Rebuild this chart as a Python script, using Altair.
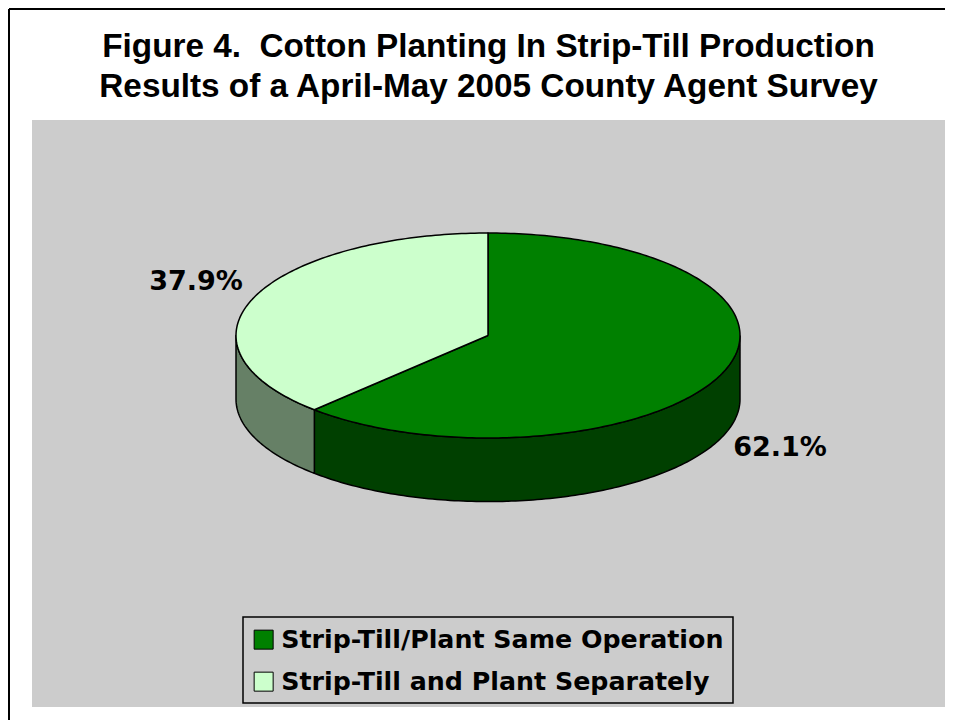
import math
import altair as alt
import pandas as pd

title_lines = ["Figure 4.\u00a0\u00a0Cotton Planting In Strip-Till Production",
               "Results of a April-May 2005 County Agent Survey"]
series = ["Strip-Till/Plant Same Operation", "Strip-Till and Plant Separately"]
shares = [62.1, 37.9]
labels = ["62.1%", "37.9%"]
top_colors = ["#008000", "#CCFFCC"]
side_colors = ["#004000", "#668066"]
FONT = "Liberation Sans"
LABEL_FONT = "DejaVu Sans"

DEPTH = 0.62  # wall height, in units of the ellipse's vertical radius


def rim(deg, drop=0.0):
    a = math.radians(deg)
    return math.sin(a), math.cos(a) - drop


split = shares[0] * 3.6
spans = [(0.0, split), (split, 360.0)]

top_rows = []
for name, (a0, a1) in zip(series, spans):
    n = int(round(a1 - a0))
    pts = [(0.0, 0.0)] + [rim(a0 + (a1 - a0) * i / n) for i in range(n + 1)] + [(0.0, 0.0)]
    for k, (x, y) in enumerate(pts):
        top_rows.append({"series": name, "x": x, "y": y, "k": k})
top_df = pd.DataFrame(top_rows)

side_spans = [(90.0, split), (split, 270.0)]
side_dfs = []
for a0, a1 in side_spans:
    n = int(round(a1 - a0))
    front = [rim(a0 + (a1 - a0) * i / n) for i in range(n + 1)]
    back = [rim(a1 - (a1 - a0) * i / n, DEPTH) for i in range(n + 1)]
    pts = front + back + front[:1]
    side_dfs.append(pd.DataFrame([{"x": x, "y": y, "k": k} for k, (x, y) in enumerate(pts)]))

xs = alt.Scale(domain=[(32 - 488) / 252, (945 - 488) / 252], nice=False, zero=False)
ys = alt.Scale(domain=[-(707 - 335.5) / 102.5, (335.5 - 120) / 102.5], nice=False, zero=False)
X = alt.X("x:Q", scale=xs, axis=None)
Y = alt.Y("y:Q", scale=ys, axis=None)

layers = []
for df, col in zip(side_dfs, side_colors):
    layers.append(
        alt.Chart(df).mark_line(fill=col, stroke="black", strokeWidth=1.5, strokeJoin="round")
        .encode(x=X, y=Y, order="k:Q")
    )

legend = alt.Legend(
    orient="none", legendX=219, legendY=507, title=None, padding=0,
    symbolType="square", symbolSize=361, symbolStrokeColor="black", symbolStrokeWidth=1,
    labelFont=LABEL_FONT, labelFontWeight="bold", labelFontSize=25.3, labelColor="black",
    rowPadding=16, labelOffset=5, labelLimit=600,
)
layers.append(
    alt.Chart(top_df).mark_line(stroke="black", strokeWidth=1.5, strokeJoin="round")
    .encode(
        x=X, y=Y, order="k:Q",
        fill=alt.Fill("series:N", scale=alt.Scale(domain=series, range=top_colors), legend=legend),
    )
)

mids = [(a0 + a1) / 2 for a0, a1 in spans]
offsets = [(58, 74), (-58, -15)]
for lab, mid, (dx, dy) in zip(labels, mids, offsets):
    x, y = rim(mid)
    layers.append(
        alt.Chart(pd.DataFrame({"x": [x], "y": [y], "t": [lab]}))
        .mark_text(font=LABEL_FONT, fontWeight="bold", fontSize=27, color="black", dx=dx, dy=dy)
        .encode(x=X, y=Y, text="t:N")
    )

# frame round the legend
layers.append(alt.Chart(pd.DataFrame({"a": [0]})).mark_rect(filled=False, stroke="black", strokeWidth=1.5)
              .encode(x=alt.value(211), x2=alt.value(701), y=alt.value(497), y2=alt.value(583)))

# outer frame: only the top and left edges are inside the picture
layers.append(alt.Chart(pd.DataFrame({"a": [0]})).mark_rule(color="black", strokeWidth=2)
              .encode(x=alt.value(-23), y=alt.value(-111), y2=alt.value(600)))
layers.append(alt.Chart(pd.DataFrame({"a": [0]})).mark_rule(color="black", strokeWidth=2)
              .encode(y=alt.value(-111), x=alt.value(-23), x2=alt.value(913)))

chart = alt.layer(*layers).resolve_scale(fill="independent").properties(
    width=913, height=587,
    padding={"left": 24, "top": 112, "right": 0, "bottom": 13},
    autosize=alt.AutoSizeParams(type="none"),
    background="white",
    title=alt.TitleParams(text=title_lines, font=FONT, fontWeight="bold", fontSize=33.3,
                          color="black", lineHeight=40, anchor="middle", offset=-96),
).configure_view(fill="#CCCCCC", stroke=None)

chart.save("out.html", embed_options={"renderer": "svg", "actions": False})
